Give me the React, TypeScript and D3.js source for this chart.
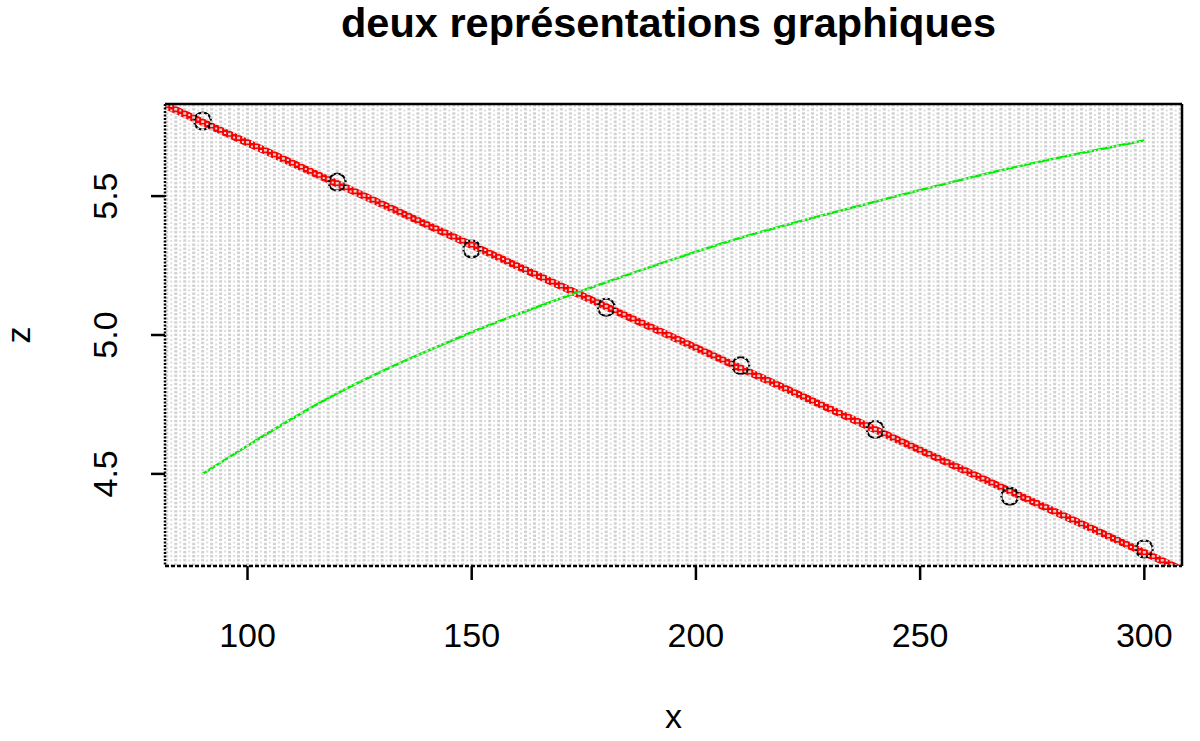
import React from "react";
import * as d3 from "d3";

const xValues = [90, 120, 150, 180, 210, 240, 270, 300];
const zValues = [5.77, 5.55, 5.31, 5.1, 4.89, 4.66, 4.42, 4.23];
const greenValues = [4.5, 4.79, 5.01, 5.19, 5.35, 5.48, 5.6, 5.7];
const xTicks = [100, 150, 200, 250, 300];
const yTicks = [4.5, 5.0, 5.5];
const titleText = "deux représentations graphiques";

const W = 1200;
const H = 741;
const left = 165;
const right = 1182;
const top = 104;
const bottom = 566;

export default function App() {
  const xExt = d3.extent(xValues) as [number, number];
  const yExt = d3.extent(zValues) as [number, number];
  const xPad = (xExt[1] - xExt[0]) * 0.04;
  const yPad = (yExt[1] - yExt[0]) * 0.04;
  const xs = d3.scaleLinear().domain([xExt[0] - xPad, xExt[1] + xPad]).range([left, right]);
  const ys = d3.scaleLinear().domain([yExt[0] - yPad, yExt[1] + yPad]).range([bottom, top]);

  const mx = d3.mean(xValues)!;
  const mz = d3.mean(zValues)!;
  const sxy = d3.sum(xValues, (x, i) => (x - mx) * (zValues[i] - mz));
  const sxx = d3.sum(xValues, (x) => (x - mx) * (x - mx));
  const slope = sxy / sxx;
  const icpt = mz - slope * mx;
  const [d0, d1] = xs.domain();
  const fitLine = d3.line<number>()
    .x((x) => xs(x))
    .y((x) => ys(icpt + slope * x))([d0 - 5, d1 + 5]);

  const greenPath = d3.line<number>()
    .x((x) => xs(x))
    .y((_, i) => ys(greenValues[i]))
    .curve(d3.curveMonotoneX)(xValues);

  const gridXs = d3.range(Math.ceil(d0), Math.floor(d1) + 1, 2);

  const font = "'Liberation Sans', Arial, sans-serif";

  return (
    <svg width={W} height={H} style={{ position: "absolute", left: 0, top: 0, background: "#fff" }}>
      <defs>
        <clipPath id="plotclip">
          <rect x={left} y={top} width={right - left} height={bottom - top} />
        </clipPath>
      </defs>
      <text x={(left + right) / 2 - 5} y={37} textAnchor="middle" fontFamily={font} fontWeight="bold" fontSize={41.5}>
        {titleText}
      </text>
      <g clipPath="url(#plotclip)">
        <path d={fitLine ?? ""} stroke="#ff0000" strokeWidth={7.5} fill="none" />
        <path d={greenPath ?? ""} stroke="#00ee00" strokeWidth={2.5} fill="none" />
        {xValues.map((x, i) => (
          <circle key={i} cx={xs(x)} cy={ys(zValues[i])} r={8.5} fill="none" stroke="#000" strokeWidth={2.2} />
        ))}
        {gridXs.map((gx) => (
          <line key={gx} x1={xs(gx)} x2={xs(gx)} y1={top} y2={bottom} stroke="#d2d2d2" strokeWidth={3} strokeDasharray="2.5,1.6" />
        ))}
        {gridXs.map((gx) => (
          <line key={"b" + gx} x1={xs(gx + 1)} x2={xs(gx + 1)} y1={top + 1} y2={bottom} stroke="#dddddd" strokeWidth={2} strokeDasharray="2,2.5" />
        ))}
      </g>
      <line x1={left} x2={right} y1={top} y2={top} stroke="#000" strokeWidth={2.5} />
      <line x1={right} x2={right} y1={top} y2={bottom} stroke="#000" strokeWidth={2.5} />
      <line x1={left} x2={left} y1={top} y2={bottom} stroke="#000" strokeWidth={2.5} strokeDasharray="2,1.5" />
      <line x1={left} x2={right} y1={bottom} y2={bottom} stroke="#000" strokeWidth={2.5} strokeDasharray="4,2" />
      {xTicks.map((t) => (
        <g key={t}>
          <line x1={xs(t)} x2={xs(t)} y1={bottom} y2={bottom + 14} stroke="#000" strokeWidth={2.5} />
          <text x={xs(t)} y={647} textAnchor="middle" fontFamily={font} fontSize={34}>{t}</text>
        </g>
      ))}
      {yTicks.map((t) => (
        <g key={t}>
          <line x1={left - 14} x2={left} y1={ys(t)} y2={ys(t)} stroke="#000" strokeWidth={2.5} />
          <text transform={`translate(117,${ys(t)}) rotate(-90)`} textAnchor="middle" fontFamily={font} fontSize={34}>
            {d3.format(".1f")(t)}
          </text>
        </g>
      ))}
      <text x={(left + right) / 2} y={728} textAnchor="middle" fontFamily={font} fontSize={34}>x</text>
      <text transform={`translate(30,${(top + bottom) / 2}) rotate(-90)`} textAnchor="middle" fontFamily={font} fontSize={34}>z</text>
    </svg>
  );
}
